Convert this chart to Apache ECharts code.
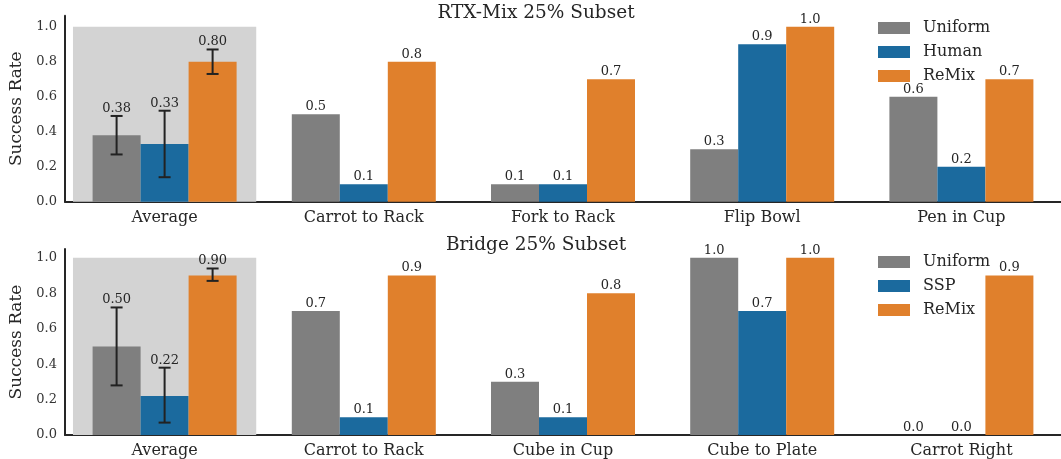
<!DOCTYPE html>
<html><head><meta charset="utf-8">
<script src="https://cdn.jsdelivr.net/npm/echarts@6/dist/echarts.min.js"></script>
<style>html,body{margin:0;padding:0;background:#fff}#c{width:1061px;height:459px}</style>
</head><body><div id="c"></div>
<script>
const topTitle = 'RTX-Mix 25% Subset';
const botTitle = 'Bridge 25% Subset';
const topCats = ['Average','Carrot to Rack','Fork to Rack','Flip Bowl','Pen in Cup'];
const botCats = ['Average','Carrot to Rack','Cube in Cup','Cube to Plate','Carrot Right'];
const topNames = ['Uniform','Human','ReMix'];
const botNames = ['Uniform','SSP','ReMix'];
const topUniform = [0.38,0.5,0.1,0.3,0.6];
const topHuman   = [0.33,0.1,0.1,0.9,0.2];
const topReMix   = [0.80,0.8,0.7,1.0,0.7];
const botUniform = [0.50,0.7,0.3,1.0,0.0];
const botSSP     = [0.22,0.1,0.1,0.7,0.0];
const botReMix   = [0.90,0.9,0.8,1.0,0.9];
// error bars for the Average group: [low, high]
const topErr = [[0.27,0.49],[0.14,0.52],[0.73,0.87]];
const botErr = [[0.28,0.72],[0.07,0.38],[0.87,0.94]];
const yTicks = [0,0.2,0.4,0.6,0.8,1.0];
const bgVal = [1.0, null, null, null, null];

const colors = ['#7f7f7f','#1b6a9e','#e0802c'];
const FONT = 'DejaVu Serif';
const BW = 48;

const chart = echarts.init(document.getElementById('c'));

function yAxis(gi, max){
  return {gridIndex: gi, type:'value', min:0, max:max, interval:0.2,
    axisLine:{show:true, lineStyle:{color:'#262626', width:2}},
    axisTick:{show:false}, splitLine:{show:false},
    axisLabel:{showMaxLabel:false, fontFamily:FONT, fontSize:13, color:'#333', margin:8,
      formatter: v => yTicks.some(t=>Math.abs(t-v)<1e-6) ? v.toFixed(1) : ''},
    name:'Success Rate', nameLocation:'middle', nameGap:40, nameRotate:90,
    nameTextStyle:{fontFamily:FONT, fontSize:17, color:'#262626'}};
}
function xAxis(gi, cats, show){
  return {gridIndex: gi, type:'category', data:cats, show: show,
    axisLine:{show:true, lineStyle:{color:'#262626', width:2}},
    axisTick:{show:false},
    axisLabel:{fontFamily:FONT, fontSize:16, color:'#262626', margin:8}};
}
function bars(gi, names, vals){
  return names.map((n,i)=>({
    type:'bar', name:n, xAxisIndex: gi*2, yAxisIndex: gi, data: vals[i],
    barWidth: BW, barGap:'0%', itemStyle:{color:colors[i]}, z:3,
    label:{show:true, position:'top', distance:1, fontFamily:FONT, fontSize:13, color:'#262626',
      formatter: p => p.dataIndex===0 ? '' : Number(p.value).toFixed(1)}
  }));
}
function errSeries(gi, err, vals){
  const data = err.map((e,i)=>[0, i-1, e[0], e[1], vals[i][0]]);
  return {type:'custom', xAxisIndex: gi*2, yAxisIndex: gi, z:5, data:data,
    renderItem:(params, api)=>{
      const cx = api.coord([api.value(0), 0])[0] + api.value(1)*BW;
      const yl = api.coord([0, api.value(2)])[1];
      const yh = api.coord([0, api.value(3)])[1];
      const st = {stroke:'#222', lineWidth:2};
      return {type:'group', children:[
        {type:'line', shape:{x1:cx,y1:yl,x2:cx,y2:yh}, style:st},
        {type:'line', shape:{x1:cx-6,y1:yl,x2:cx+6,y2:yl}, style:st},
        {type:'line', shape:{x1:cx-6,y1:yh,x2:cx+6,y2:yh}, style:st},
        {type:'text', x:cx, y:yh-1, style:{text: api.value(4).toFixed(2), fontFamily:FONT, fontSize:13,
          fill:'#262626', align:'center', verticalAlign:'bottom'}}
      ]};
    }};
}
function bgSeries(gi){
  return {type:'bar', name:'bg', xAxisIndex: gi*2+1, yAxisIndex: gi, data: bgVal,
    barWidth:'92%', itemStyle:{color:'#d3d3d3'}, z:1, silent:true};
}
function legend(names, top){
  return {data:names, orient:'vertical', left:873, top:top, itemWidth:32, itemHeight:12, itemGap:6,
    icon:'rect', textStyle:{fontFamily:FONT, fontSize:16, color:'#262626', padding:[0,0,0,8], lineHeight:18}};
}

chart.setOption({
  animation:false,
  grid:[
    {left:64, right:0, top:15.7, height:186},
    {left:64, right:0, top:249, height:186}
  ],
  xAxis:[xAxis(0, topCats, true), xAxis(0, topCats, false), xAxis(1, botCats, true), xAxis(1, botCats, false)],
  yAxis:[yAxis(0, 1.063), yAxis(1, 1.05)],
  legend:[legend(topNames, 14), legend(botNames, 248)],
  graphic:[
    {type:'text', x:536, y:13, style:{text:topTitle, fontFamily:FONT, fontSize:18.5, fill:'#262626', align:'center', verticalAlign:'middle'}},
    {type:'text', x:536, y:245, style:{text:botTitle, fontFamily:FONT, fontSize:18.5, fill:'#262626', align:'center', verticalAlign:'middle'}}
  ],
  series:[
    bgSeries(0), bgSeries(1),
    ...bars(0, topNames, [topUniform, topHuman, topReMix]),
    ...bars(1, botNames, [botUniform, botSSP, botReMix]),
    errSeries(0, topErr, [topUniform, topHuman, topReMix]),
    errSeries(1, botErr, [botUniform, botSSP, botReMix])
  ]
});
</script></body></html>
